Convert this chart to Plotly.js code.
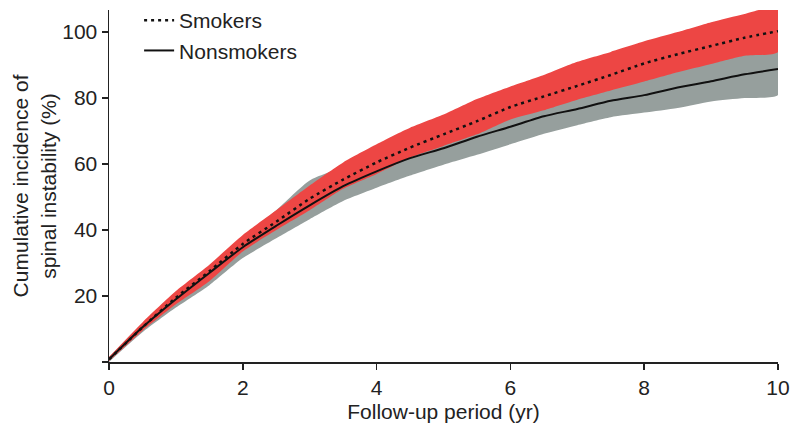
<!DOCTYPE html>
<html>
<head>
<meta charset="utf-8">
<script src="https://cdn.plot.ly/plotly-3.0.1.min.js"></script>
<style>html,body{margin:0;padding:0;background:#fff;}#chart{width:790px;height:428px;}</style>
</head>
<body>
<div id="chart"></div>
<script>
// Follow-up years
const years = [0,0.5,1,1.5,2,2.5,3,3.5,4,4.5,5,5.5,6,6.5,7,7.5,8,8.5,9,9.5,10];
// Smokers cumulative incidence (%) and 95% band
const smokers      = [0.8,10.5,19.5,27.5,35.8,42.5,49.5,55.3,60.5,65.0,69.0,73.0,77.3,80.5,83.7,87.0,90.5,93.3,95.8,98.3,100.3];
const smokersUpper = [1.5,12.0,21.5,29.5,38.5,46.0,53.5,60.5,66.0,71.0,75.0,79.7,83.5,87.0,91.0,94.0,97.2,100.0,103.0,105.5,107.5];
const smokersLower = [0.3,9.5,17.5,24.5,33.5,40.0,46.0,52.5,57.0,62.0,65.5,69.0,73.5,76.3,79.5,82.3,85.0,87.8,90.3,92.8,94.0];
// Nonsmokers cumulative incidence (%) and 95% band
const nonsmokers      = [0.8,10.5,19.0,27.0,34.8,41.3,47.5,53.3,57.8,61.8,64.8,68.3,71.3,74.5,76.7,79.2,80.9,83.2,85.1,87.2,88.8];
const nonsmokersUpper = [1.5,11.8,21.0,29.0,38.0,46.0,55.0,59.0,62.0,66.5,70.0,73.5,76.5,79.0,81.5,84.0,86.0,88.5,91.0,93.5,96.0];
const nonsmokersLower = [0.0,9.0,16.5,23.3,31.5,37.5,43.3,48.8,52.8,56.5,59.8,62.8,66.0,69.2,71.8,74.2,75.6,77.0,79.0,80.0,80.9];
const seriesNames = ["Smokers","Nonsmokers"];
const xTicks = [0,2,4,6,8,10];
const yTicks = [0,20,40,60,80,100];
const yTickText = ["","20","40","60","80","100"];

function band(upper, lower){
  return {x: years.concat(years.slice().reverse()), y: upper.concat(lower.slice().reverse())};
}
const gb = band(nonsmokersUpper, nonsmokersLower);
const rb = band(smokersUpper, smokersLower);
const FONT = "Liberation Sans, Arial, sans-serif";
const FS = 21;

const traces = [
  {x: gb.x, y: gb.y, type:"scatter", mode:"lines", fill:"toself", fillcolor:"rgb(150,159,157)",
   line:{width:0, color:"rgba(0,0,0,0)", shape:"spline", smoothing:0.6}, showlegend:false, hoverinfo:"skip"},
  {x: rb.x, y: rb.y, type:"scatter", mode:"lines", fill:"toself", fillcolor:"rgb(237,70,68)",
   line:{width:0, color:"rgba(0,0,0,0)", shape:"spline", smoothing:0.6}, showlegend:false, hoverinfo:"skip"},
  {x: years, y: smokers, type:"scatter", mode:"lines", name: seriesNames[0],
   line:{color:"#111", width:2.5, dash:"3px,4px", shape:"spline", smoothing:0.6}},
  {x: years, y: nonsmokers, type:"scatter", mode:"lines", name: seriesNames[1],
   line:{color:"#111", width:2, shape:"spline", smoothing:0.6}}
];

const layout = {
  width:790, height:428,
  margin:{l:109, r:12, t:10, b:66, autoexpand:false},
  paper_bgcolor:"#fff", plot_bgcolor:"#fff",
  font:{family:FONT, size:FS, color:"#222"},
  showlegend:true,
  legend:{x:0.045, xanchor:"left", y:1.0, yanchor:"top", yref:"container", bgcolor:"rgba(0,0,0,0)",
          font:{family:FONT, size:FS, color:"#222"}, tracegroupgap:0},
  xaxis:{range:[0,10], tickvals:xTicks, ticktext:xTicks.map(String), showgrid:false, zeroline:false,
         showline:true, linecolor:"#222", linewidth:1.5, ticks:"outside", ticklen:6, tickwidth:1.5, tickcolor:"#222",
         tickfont:{family:FONT, size:FS, color:"#222"}, automargin:false,
         title:{text:"Follow-up period (yr)", font:{family:FONT, size:FS, color:"#222"}, standoff:6}},
  yaxis:{range:[0,106.7], tickvals:yTicks, ticktext:yTickText, showgrid:false, zeroline:false,
         showline:true, linecolor:"#222", linewidth:1.5, ticks:"outside", ticklen:6, tickwidth:1.5, tickcolor:"#222",
         tickfont:{family:FONT, size:FS, color:"#222"}, automargin:false,
         title:{text:"Cumulative incidence of<br>spinal instability (%)", font:{family:FONT, size:FS, color:"#222"}, standoff:0}}
};
Plotly.newPlot("chart", traces, layout, {displayModeBar:false, staticPlot:true});
</script>
</body>
</html>
